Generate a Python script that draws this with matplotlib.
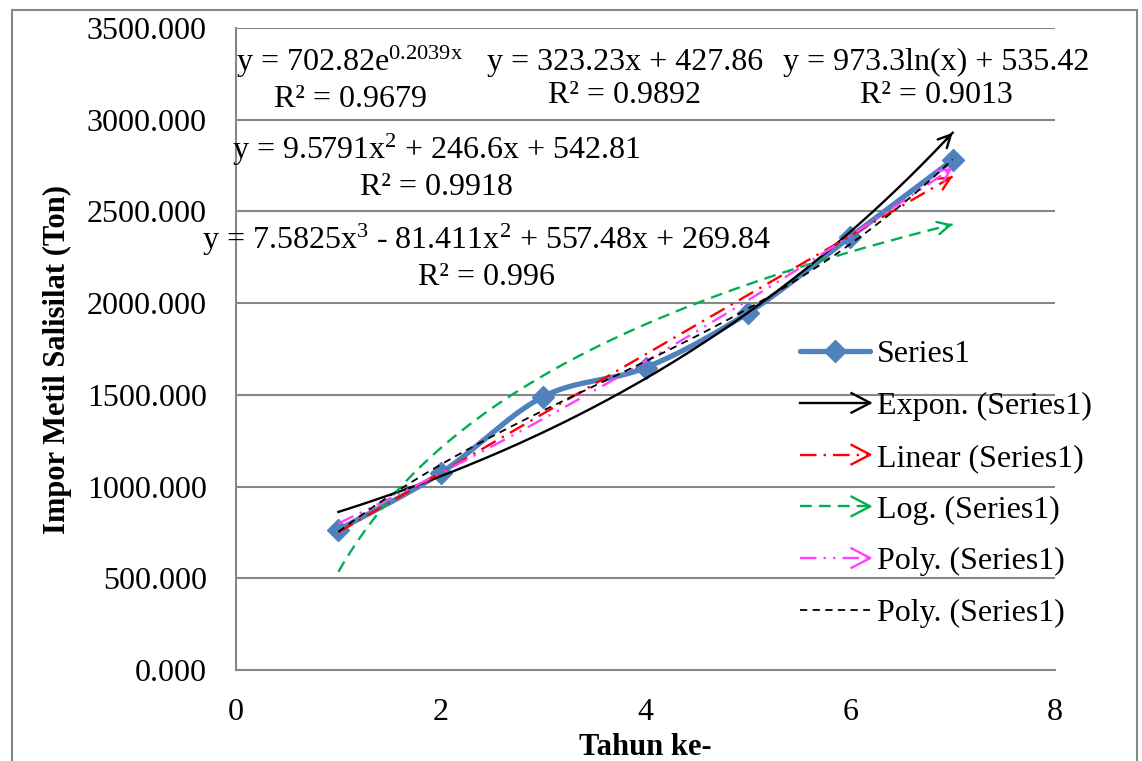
import numpy as np
import matplotlib
matplotlib.use("Agg")
import matplotlib.pyplot as plt
from matplotlib.lines import Line2D
from matplotlib.legend_handler import HandlerLine2D
from matplotlib.patches import Rectangle

plt.rcParams['font.family'] = ['Liberation Serif', 'DejaVu Serif']
plt.rcParams['mathtext.fontset'] = 'custom'
plt.rcParams['mathtext.rm'] = 'Liberation Serif'
plt.rcParams['mathtext.it'] = 'Liberation Serif:italic'

# ---- data ----
years = [1, 2, 3, 4, 5, 6, 7]
imports = [763, 1074, 1490, 1648, 1946, 2361, 2780]

exp_coef = (702.82, 0.2039)
lin_coef = (323.23, 427.86)
log_coef = (973.3, 535.42)
poly2_coef = (9.5791, 246.6, 542.81)
poly3_coef = (7.5825, -81.411, 557.48, 269.84)

eq_labels = [
    r"y = 702.82e$^{\mathrm{0.2039x}}$" + "\nR² = 0.9679",
    "y = 323.23x + 427.86\nR² = 0.9892",
    "y = 973.3ln(x) + 535.42\nR² = 0.9013",
    "y = 9.5791x$^{\\mathrm{2}}$ + 246.6x + 542.81\nR² = 0.9918",
    "y = 7.5825x$^{\\mathrm{3}}$ - 81.411x$^{\\mathrm{2}}$ + 557.48x + 269.84\nR² = 0.996",
]
legend_labels = ["Series1", "Expon. (Series1)", "Linear (Series1)",
                 "Log. (Series1)", "Poly. (Series1)", "Poly. (Series1)"]
y_ticks = [0, 500, 1000, 1500, 2000, 2500, 3000, 3500]
x_ticks = [0, 2, 4, 6, 8]

W, H = 1142, 761
fig = plt.figure(figsize=(W / 100, H / 100), dpi=100)
L, R, T, B = 236, 1055, 28, 670
ax = fig.add_axes([L / W, 1 - B / H, (R - L) / W, (B - T) / H])

def fx(px):
    return px / W

def fy(py):
    return 1 - py / H

GRID = '#878787'
BLUE = '#4F81BD'
FS = 23

# smooth curve (Catmull-Rom) through the series points, like Excel's smoothed line
def smooth(xs, ys, n=30):
    xs = np.asarray(xs, float); ys = np.asarray(ys, float)
    P = np.column_stack([xs, ys])
    P = np.vstack([P[0] - (P[1] - P[0]), P, P[-1] + (P[-1] - P[-2])])
    out = []
    for i in range(1, len(P) - 2):
        p0, p1, p2, p3 = P[i - 1], P[i], P[i + 1], P[i + 2]
        t = np.linspace(0, 1, n)[:, None]
        seg = 0.5 * ((2 * p1) + (-p0 + p2) * t + (2 * p0 - 5 * p1 + 4 * p2 - p3) * t ** 2
                     + (-p0 + 3 * p1 - 3 * p2 + p3) * t ** 3)
        out.append(seg if i == 1 else seg[1:])
    S = np.vstack(out)
    return S[:, 0], S[:, 1]

sx, sy = smooth(years, imports)
ax.plot(sx, sy, color=BLUE, lw=3.8, solid_capstyle='round', zorder=3)
ax.plot(years, imports, ls='none', marker='D', ms=11, color=BLUE, zorder=3)

xx = np.linspace(years[0], years[-1], 200)
trend_exp = exp_coef[0] * np.exp(exp_coef[1] * xx)
trend_lin = lin_coef[0] * xx + lin_coef[1]
trend_log = log_coef[0] * np.log(xx) + log_coef[1]
trend_p2 = np.polyval(poly2_coef, xx)
trend_p3 = np.polyval(poly3_coef, xx)

styles = [
    dict(color='black', ls='-', lw=1.7),
    dict(color='#FF0000', ls=(0, (7, 3, 1, 3)), lw=1.7),
    dict(color='#00B050', ls=(0, (5, 3)), lw=1.7),
    dict(color='#FF40FF', ls=(0, (7, 3, 1, 3, 1, 3)), lw=1.7),
    dict(color='black', ls=(0, (4, 3)), lw=1.3),
]
trends = [trend_exp, trend_lin, trend_log, trend_p2, trend_p3]
arrows = [True, True, True, True, False]
for tr, st, arr in zip(trends, styles, arrows):
    ax.plot(xx, tr, zorder=4, **st)
    if arr:
        ax.annotate('', xy=(xx[-1], tr[-1]), xytext=(xx[-3], tr[-3]),
                    arrowprops=dict(arrowstyle='->,head_length=0.9,head_width=0.45',
                                    color=st['color'], lw=1.7, shrinkA=0, shrinkB=0),
                    zorder=4)

ax.set_xlim(0, 8)
ax.set_ylim(0, 3500)
ax.set_xticks(x_ticks)
ax.set_yticks(y_ticks)
ax.set_yticklabels([f"{v:.3f}" for v in y_ticks])
ax.tick_params(axis='both', length=0, labelsize=FS, colors='black')
ax.tick_params(axis='y', pad=21)
ax.tick_params(axis='x', pad=20)
ax.grid(axis='y', color=GRID, lw=1.5, zorder=0)
ax.set_axisbelow(True)
for s in ['top', 'right']:
    ax.spines[s].set_visible(False)
for s in ['left', 'bottom']:
    ax.spines[s].set_color(GRID)
    ax.spines[s].set_linewidth(1.5)

ax.set_ylabel("Impor Metil Salisilat (Ton)", fontsize=22, fontweight='bold')
ax.yaxis.set_label_coords((72 - L) / (R - L), (B - 360) / (B - T))
ax.set_xlabel("Tahun ke-", fontsize=22, fontweight='bold')
ax.xaxis.set_label_coords((645 - L) / (R - L), (B - 733) / (B - T))

# equation labels
eq_pos = [(350, 79), (625, 79), (936, 79), (436, 167), (486, 257)]
for lab, (px, py) in zip(eq_labels, eq_pos):
    fig.text(fx(px), fy(py), lab, fontsize=FS, ha='center', va='center',
             linespacing=1.2, multialignment='center')

# legend with arrow heads
class ArrowHandler(HandlerLine2D):
    def __init__(self, arrow=True, **kw):
        super().__init__(**kw)
        self.arrow = arrow

    def create_artists(self, legend, orig_handle, xdescent, ydescent, width,
                       height, fontsize, trans):
        arts = super().create_artists(legend, orig_handle, xdescent, ydescent,
                                      width, height, fontsize, trans)
        if self.arrow:
            x1 = width - xdescent
            y = (height - ydescent) / 2
            hl, hw = 13.5, 7
            ch = Line2D([x1 - hl, x1, x1 - hl], [y + hw, y, y - hw],
                        color=orig_handle.get_color(), lw=1.7, transform=trans)
            arts.append(ch)
        return arts

h_series = Line2D([], [], color=BLUE, lw=3.8, marker='D', ms=11, solid_capstyle='round')
handles = [h_series] + [Line2D([], [], **st) for st in styles]
hmap = {h_series: HandlerLine2D(numpoints=1)}
for h, arr in zip(handles[1:], arrows):
    hmap[h] = ArrowHandler(arrow=arr)
leg = fig.legend(handles, legend_labels, handler_map=hmap, loc='upper left',
                 bbox_to_anchor=(fx(800), fy(340)), frameon=False, fontsize=FS,
                 handlelength=2.2, handletextpad=0.2, labelspacing=0.7,
                 borderpad=0, borderaxespad=0)

# outer chart border
fig.patches.append(Rectangle((fx(12), -0.05), fx(1137) - fx(12), fy(10) + 0.05,
                             transform=fig.transFigure, fill=False, ec=GRID, lw=1.5))

fig.savefig("out.png", dpi=100)
